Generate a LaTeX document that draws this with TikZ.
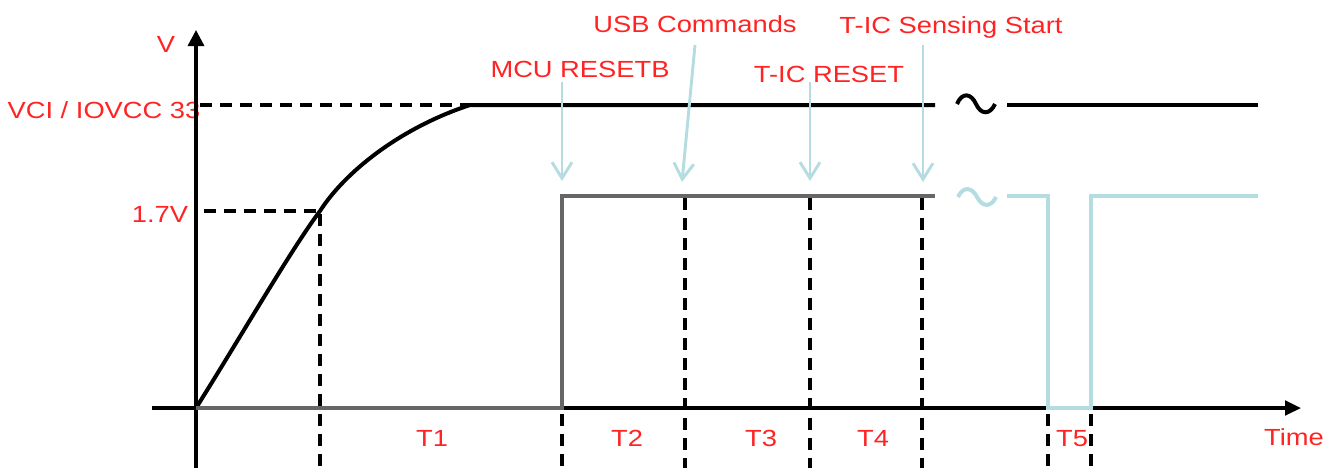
\documentclass[tikz,border=0pt]{standalone}
\usepackage{fontspec}
\setmainfont{Liberation Sans}[FakeStretch=1.17]
\usetikzlibrary{arrows.meta,backgrounds}
\definecolor{xred}{RGB}{255,35,35}
\definecolor{xcyan}{RGB}{180,220,225}
\definecolor{xgray}{RGB}{102,102,102}

\begin{document}
\begin{tikzpicture}[x=0.75pt, y=-0.75pt, every node/.style={text=xred, inner sep=0pt, anchor=base, font=\fontsize{17.5}{20}\selectfont}]
\def \yz {408}
\def \yh {105}
\def \ym {196}
\def \yb {468}
\useasboundingbox (0,0) rectangle (1337,468);
\node at (166,52) (vlab) {V};
\node at (104,118) (vcilab) {VCI / IOVCC 33};
\node at (160,222) (lowlab) {1.7V};
\node at (580,77) (mculab) {MCU RESETB};
\node at (695,32) (usblab) {USB Commands};
\node at (829,82) (ticlab) {T-IC RESET};
\node at (951,33) (senlab) {T-IC Sensing Start};
\node at (432,446) (t1) {T1};
\node at (627,446) (t2) {T2};
\node at (761,446) (t3) {T3};
\node at (873,446) (t4) {T4};
\node at (1072,446) (t5) {T5};
\node at (1294,445) (timelab) {Time};
\coordinate (o) at (196,\yz);
\coordinate (p17) at (320,211);
\coordinate (p33) at (470,\yh);
\begin{scope}[on background layer]
\draw[line width=2.5pt, dash pattern=on 9pt off 6pt] (200,\yh) -- (p33);
\draw[line width=2.5pt, dash pattern=on 9pt off 6pt] (204,211) -- (p17);
\draw[line width=2.5pt, dash pattern=on 9pt off 6pt] (320,214) -- (320,\yb);
\foreach \x in {685,810,922}
  \draw[line width=2.5pt, dash pattern=on 9pt off 6pt] (\x,\ym+2) -- (\x,\yb);
\foreach \x in {562,1048,1091}
  \draw[line width=2.5pt, dash pattern=on 9pt off 6pt] (\x,\yz+6) -- (\x,\yb);
\end{scope}
% axes
\draw[line width=2.5pt, -{Triangle[length=12pt,width=12pt]}] (196,\yb) -- (196,30);
\draw[line width=2.5pt, -{Triangle[length=12pt,width=11pt]}] (152,\yz) -- (1301,\yz);
% VCI
\draw[line width=3pt] (o) .. controls (240,338) and (292,248) .. (p17)
  .. controls (345,172) and (400,128) .. (p33) -- (935,\yh);
\draw[line width=3pt] (957,104) .. controls (962,92) and (971,93) .. (976,104)
  .. controls (981,115) and (990,115) .. (995,104);
\draw[line width=3pt] (1007,\yh) -- (1258,\yh);
% RESETB
\draw[line width=3pt, xgray] (o) -- (562,\yz) -- (562,\ym) -- (935,\ym);
\draw[line width=3pt, xcyan] (958,197) .. controls (963,186) and (972,187) .. (977,197)
  .. controls (982,207) and (991,208) .. (996,197);
\draw[line width=3pt, xcyan] (1007,\ym) -- (1048,\ym) -- (1048,\yz) -- (1091,\yz) -- (1091,\ym) -- (1258,\ym);
% event arrows
\coordinate (mcua) at (562,82);
\coordinate (mcub) at (562,181);
\coordinate (usba) at (695,45);
\coordinate (usbb) at (682,182);
\coordinate (tica) at (810,82);
\coordinate (ticb) at (810,181);
\coordinate (sena) at (923,45);
\coordinate (senb) at (923,182);
\draw[line width=2.2pt, xcyan, -{Straight Barb[length=12pt,width=15pt]}] (mcua) -- (mcub);
\draw[line width=2.2pt, xcyan, -{Straight Barb[length=12pt,width=15pt]}] (usba) -- (usbb);
\draw[line width=2.2pt, xcyan, -{Straight Barb[length=12pt,width=15pt]}] (tica) -- (ticb);
\draw[line width=2.2pt, xcyan, -{Straight Barb[length=12pt,width=15pt]}] (sena) -- (senb);
\end{tikzpicture}
\end{document}
